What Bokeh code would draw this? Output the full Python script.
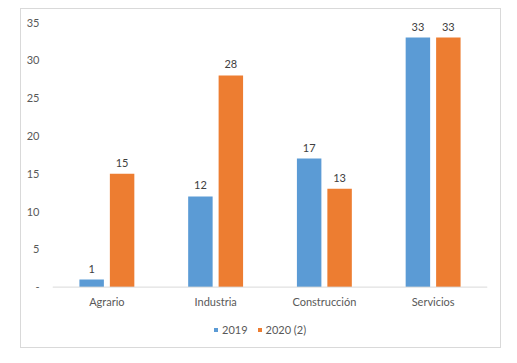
from bokeh.plotting import figure
from bokeh.models import ColumnDataSource, FactorRange, Range1d, LabelSet, Legend, LegendItem, Span
from bokeh.core.properties import value
from bokeh.transform import dodge
from bokeh.embed import file_html
from bokeh.resources import INLINE

categories = ["Agrario", "Industria", "Construcción", "Servicios"]
v2019 = [1, 12, 17, 33]
v2020 = [15, 28, 13, 33]
series_names = ["2019", "2020 (2)"]
y_ticks = [0, 5, 10, 15, 20, 25, 30, 35]

BLUE = "#5B9BD5"
ORANGE = "#ED7D31"
TXT = "#595959"
FONT = "Lato"
FS = "11px"

src = ColumnDataSource(dict(
    cat=categories, a=v2019, b=v2020, zero=[0] * len(categories),
    la=[str(v) for v in v2019], lb=[str(v) for v in v2020],
))

p = figure(x_range=FactorRange(*categories, range_padding=0), y_range=Range1d(-8.25, 35),
           width=481, height=340, output_backend="svg", toolbar_location=None,
           min_border_left=31, min_border_right=15, min_border_top=13, min_border_bottom=0)
p.margin = (8, 0, 0, 20)
p.styles = {"border": "1px solid #d9d9d9", "box-sizing": "border-box"}
p.outline_line_color = None
p.xgrid.grid_line_color = None
p.ygrid.grid_line_color = None
p.xaxis.visible = False

p.add_layout(Span(location=0, dimension="width", line_color="#d9d9d9", line_width=1))

ra = p.vbar(x=dodge("cat", -0.14, range=p.x_range), top="a", width=0.225, source=src,
            fill_color=BLUE, line_color=None)
rb = p.vbar(x=dodge("cat", 0.14, range=p.x_range), top="b", width=0.225, source=src,
            fill_color=ORANGE, line_color=None)

for col, lab, off in (("a", "la", -0.14), ("b", "lb", 0.14)):
    ls = LabelSet(x=dodge("cat", off, range=p.x_range), y=col, text=lab, source=src,
                  y_offset=7, text_align="center", text_font=value(FONT),
                  text_font_size=value(FS), text_color=value("#404040"))
    p.add_layout(ls)

cat_labels = LabelSet(x="cat", y="zero", text="cat", source=src, y_offset=-8,
                      text_align="center", text_baseline="top", text_font=value(FONT),
                      text_font_size=value(FS), text_color=value(TXT))
p.add_layout(cat_labels)

p.yaxis.ticker = y_ticks
p.yaxis.major_label_overrides = {0: "-"}
p.yaxis.axis_line_color = None
p.yaxis.major_tick_line_color = None
p.yaxis.minor_tick_line_color = None
p.yaxis.major_label_standoff = 7
p.yaxis.major_label_text_font = FONT
p.yaxis.major_label_text_font_size = FS
p.yaxis.major_label_text_color = TXT

legend = Legend(items=[LegendItem(label=series_names[0], renderers=[ra]),
                       LegendItem(label=series_names[1], renderers=[rb])],
                orientation="horizontal", location=(161, 13),
                glyph_width=5, glyph_height=5, spacing=9, label_standoff=4,
                label_text_font=FONT, label_text_font_size=FS, label_text_color=TXT,
                border_line_color=None, background_fill_alpha=0, padding=2, margin=0)
p.add_layout(legend)

open("out.html", "w").write(file_html(p, INLINE))
